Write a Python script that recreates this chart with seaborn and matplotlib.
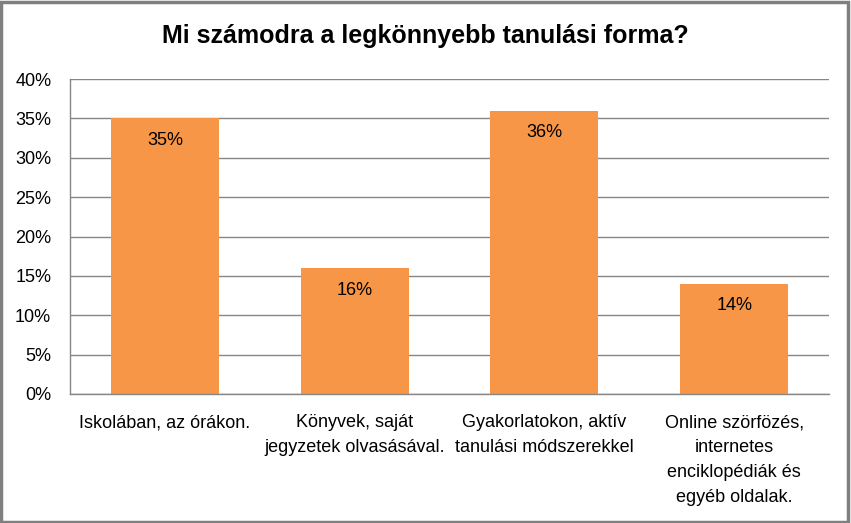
import matplotlib
matplotlib.use("Agg")
import matplotlib.pyplot as plt
import seaborn as sns
import pandas as pd
from matplotlib.ticker import PercentFormatter, MultipleLocator
from matplotlib.patches import Rectangle

categories = ["Iskolában, az órákon.",
              "Könyvek, saját\njegyzetek olvasásával.",
              "Gyakorlatokon, aktív\ntanulási módszerekkel",
              "Online szörfözés,\ninternetes\nenciklopédiák és\negyéb oldalak."]
values = [35, 16, 36, 14]
title = "Mi számodra a legkönnyebb tanulási forma?"

sns.set_theme(style="white")
plt.rcParams['font.family'] = ['Liberation Sans', 'DejaVu Sans']

df = pd.DataFrame({"cat": categories, "val": values})

fig = plt.figure(figsize=(8.51, 5.23), dpi=100)
ax = fig.add_axes([70/851, 1 - 394/523, (829-70)/851, (394-79)/523])

sns.barplot(data=df, x="cat", y="val", color="#F79646", width=0.57, ax=ax,
            saturation=1, edgecolor="none")

ax.set_ylim(0, 40)
ax.yaxis.set_major_locator(MultipleLocator(5))
ax.yaxis.set_major_formatter(PercentFormatter(decimals=0))
ax.set_xlim(-0.5, 3.5)
ax.set_xlabel("")
ax.set_ylabel("")
ax.grid(axis="y", color="#868686", linewidth=1)
ax.set_axisbelow(True)
for s in ["top", "right"]:
    ax.spines[s].set_visible(False)
for s in ["left", "bottom"]:
    ax.spines[s].set_color("#868686")
    ax.spines[s].set_linewidth(1)
ax.tick_params(axis="y", labelsize=13, length=0, pad=13.5, labelcolor="black")
ax.tick_params(axis="x", labelsize=13, length=0, pad=14.5, labelcolor="black")
for lbl in ax.get_xticklabels():
    lbl.set_verticalalignment("top")
    lbl.set_linespacing(1.6)

for i, v in enumerate(values):
    ax.text(i, v - 2.8, f"{v}%", ha="center", va="center", fontsize=13, color="black")

fig.text(0.5, 1 - 43/523, title, ha="center", va="baseline", fontsize=18,
         fontweight="bold", color="black")

fig.patches.append(Rectangle((0.001, 0.002), 0.996, 0.995, transform=fig.transFigure,
                             fill=False, edgecolor="#7f7f7f", linewidth=2.5))

fig.savefig("out.png", dpi=100)
